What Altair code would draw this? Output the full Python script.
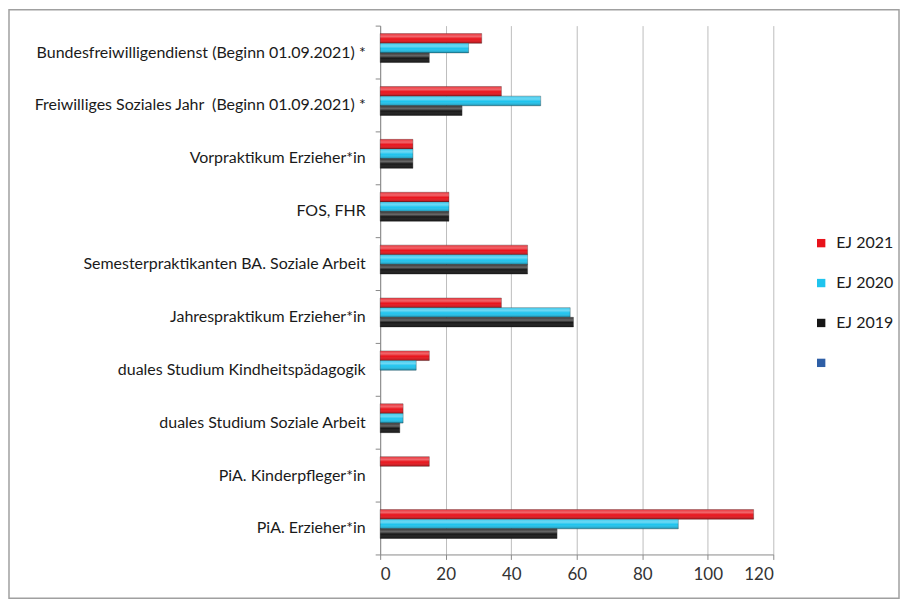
import altair as alt
import pandas as pd

categories = [
    "Bundesfreiwilligendienst (Beginn 01.09.2021) *",
    "Freiwilliges Soziales Jahr\u00a0 (Beginn 01.09.2021) *",
    "Vorpraktikum Erzieher*in",
    "FOS, FHR",
    "Semesterpraktikanten BA. Soziale Arbeit",
    "Jahrespraktikum Erzieher*in",
    "duales Studium Kindheitspädagogik",
    "duales Studium Soziale Arbeit",
    "PiA. Kinderpfleger*in",
    "PiA. Erzieher*in",
]
series = ["EJ 2021", "EJ 2020", "EJ 2019"]
ej2021 = [31, 37, 10, 21, 45, 37, 15, 7, 15, 114]
ej2020 = [27, 49, 10, 21, 45, 58, 11, 7, None, 91]
ej2019 = [15, 25, 10, 21, 45, 59, None, 6, None, 54]
legend_domain = ["EJ 2021", "EJ 2020", "EJ 2019", " "]
colors = ["#e8131b", "#1fc4ee", "#161616", "#2e5fa6"]
x_ticks = [0, 20, 40, 60, 80, 100, 120]

rows = []
for s, vals in zip(series, [ej2021, ej2020, ej2019]):
    for c, v in zip(categories, vals):
        if v is not None:
            rows.append({"Kategorie": c, "Serie": s, "Wert": v})
df = pd.DataFrame(rows)

font = "Lato"

y_enc = alt.Y("Kategorie:N", sort=categories,
              scale=alt.Scale(domain=categories, paddingInner=0, paddingOuter=0),
              axis=alt.Axis(title=None, labelFontSize=16, labelFont=font,
                            labelColor="#1a1a1a", labelLimit=400,
                            labelPadding=10, tickBand="extent", tickSize=5,
                            tickColor="#8a8a8a", domainColor="#8a8a8a",
                            grid=False))
yoff_enc = alt.YOffset("Serie:N", sort=series,
                       scale=alt.Scale(domain=series, range=[8, 37],
                                       paddingInner=0, paddingOuter=0))
x_enc = alt.X("Wert:Q", scale=alt.Scale(domain=[0, 120], nice=False),
              axis=alt.Axis(title=None, values=x_ticks, labelFontSize=17,
                            labelFont=font, labelColor="#333333", labelPadding=7,
                            tickSize=5, tickColor="#8a8a8a", domainColor="#8a8a8a",
                            gridColor="#bdbdbd", gridWidth=1))

bars = alt.Chart(df).mark_bar(
    stroke="#333333", strokeWidth=0.6, strokeOpacity=0.6
).encode(
    y=y_enc, yOffset=yoff_enc, x=x_enc,
    color=alt.Color("Serie:N",
                    scale=alt.Scale(domain=legend_domain, range=colors),
                    legend=alt.Legend(title=None, orient="none", legendX=434,
                                      legendY=210, symbolType="square",
                                      symbolSize=70, symbolStrokeWidth=0,
                                      labelFontSize=16, labelFont=font,
                                      labelColor="#1a1a1a", rowPadding=24,
                                      labelOffset=7)),
)

shine = alt.Chart(df).mark_bar(
    color=alt.LinearGradient(
        gradient="linear", x1=0, y1=0, x2=0, y2=1,
        stops=[
            alt.GradientStop(offset=0, color="rgba(255,255,255,0.15)"),
            alt.GradientStop(offset=0.3, color="rgba(255,255,255,0.35)"),
            alt.GradientStop(offset=0.55, color="rgba(255,255,255,0.0)"),
            alt.GradientStop(offset=1, color="rgba(0,0,0,0.3)"),
        ],
    )
).encode(y=alt.Y("Kategorie:N", sort=categories), yOffset=alt.YOffset("Serie:N", sort=series),
         x=alt.X("Wert:Q"))

frame_df = pd.DataFrame({"f": [1]})
frame = alt.Chart(frame_df).mark_rect(
    fill=None, stroke="#a0a0a0", strokeWidth=1.5, clip=False
).encode(
    x=alt.value(-372), x2=alt.value(520), y=alt.value(-16), y2=alt.value(574)
)

chart = alt.layer(bars, shine, frame).properties(
    width=394, height=530,
    autosize=alt.AutoSizeParams(type="none"),
    padding={"left": 373, "top": 17, "right": 128, "bottom": 45},
).configure_view(stroke=None)

chart.save("out.html", embed_options={"renderer": "svg", "actions": False})
